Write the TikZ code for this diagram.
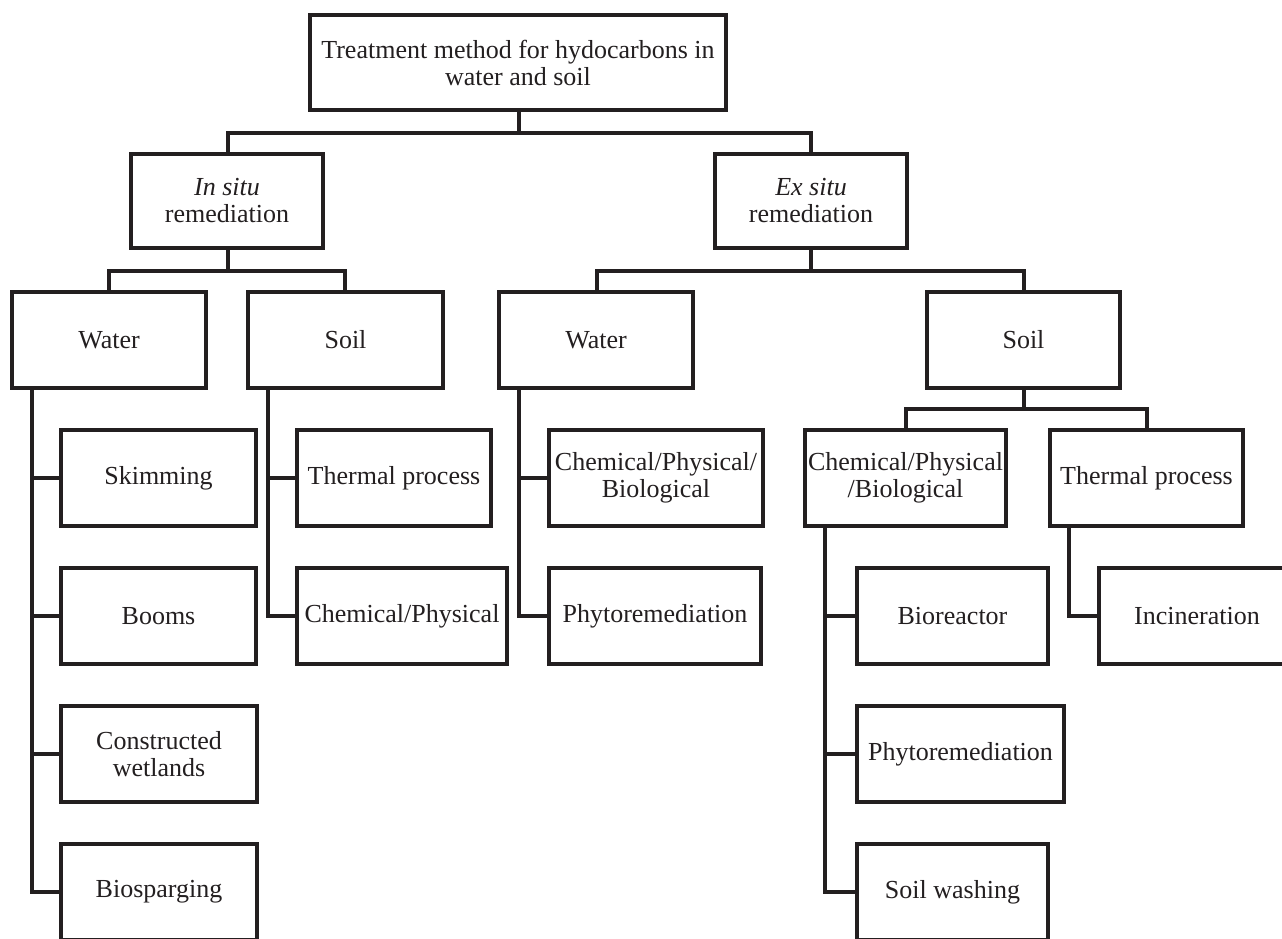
\documentclass[tikz,border=0pt]{standalone}
\usepackage{fontspec}
\setmainfont{Liberation Serif}
\definecolor{ink}{RGB}{35,31,32}
\begin{document}
\begin{tikzpicture}[x=0.75pt,y=-0.75pt,
  box/.style={draw=ink,line width=3.4pt,inner sep=0pt,minimum height=72pt,
    align=center,text=ink,font=\fontsize{19.5}{20.25}\selectfont},
  bw/.style={minimum width=#1*0.75pt},
  conn/.style={draw=ink,line width=3.2pt}]
\useasboundingbox (0,0) rectangle (1282,939);
\clip (0,0) rectangle (1282,939);
\fill[white] (0,0) rectangle (1282,939);
% level 0
\node[box,bw=416,minimum height=71.25pt] (top) at (518,62.5) {Treatment method for hydocarbons in\\water and soil};
% level 1
\node[box,bw=192,minimum height=70.5pt] (insitu) at (227,201) {\textit{In situ}\\remediation};
\node[box,bw=192,minimum height=70.5pt] (exsitu) at (811,201) {\textit{Ex situ}\\remediation};
% level 2
\node[box,bw=194] (inwater) at (109,340) {Water};
\node[box,bw=195] (insoil) at (345.5,340) {Soil};
\node[box,bw=194] (exwater) at (596,340) {Water};
\node[box,bw=193] (exsoil) at (1023.5,340) {Soil};
% in situ water children
\node[box,bw=195] (skim) at (158.5,478) {Skimming};
\node[box,bw=195] (booms) at (158.5,616) {Booms};
\node[box,bw=196] (wet) at (159,754) {Constructed\\wetlands};
\node[box,bw=196] (bios) at (159,892) {Biosparging};
% in situ soil children
\node[box,bw=194] (inthermal) at (394,478) {Thermal process};
\node[box,bw=210] (inchem) at (402,616) {Chemical/Physical};
% ex situ water children
\node[box,bw=214] (excpb) at (656,478) {Chemical/Physical/\\Biological};
\node[box,bw=212] (exphyto) at (655,616) {Phytoremediation};
% ex situ soil children
\node[box,bw=201] (soilcpb) at (905.5,478) {Chemical/Physical\\/Biological};
\node[box,bw=193] (soilthermal) at (1146.5,478) {Thermal process};
\node[box,bw=191] (bioreact) at (952.5,616) {Bioreactor};
\node[box,bw=207] (sphyto) at (960.5,754) {Phytoremediation};
\node[box,bw=191] (swash) at (952.5,892) {Soil washing};
\node[box,bw=196] (incin) at (1197,616) {Incineration};
% junction coordinates
\coordinate (j0) at (519,133);
\coordinate (j1) at (228,271);
\coordinate (j2) at (811,271);
\coordinate (j3) at (1024,409);
\coordinate (xa) at (32,0);
\coordinate (xb) at (268,0);
\coordinate (xc) at (519,0);
\coordinate (xd) at (825,0);
\coordinate (xe) at (1069,0);
% connectors
\draw[conn] (top.south -| j0) -- (j0);
\draw[conn] (insitu.north -| j1) |- (j0) -| (exsitu.north -| j2);
\draw[conn] (insitu.south -| j1) -- (j1);
\draw[conn] (inwater.north -| 109,0) |- (j1) -| (insoil.north -| 345,0);
\draw[conn] (exsitu.south -| j2) -- (j2);
\draw[conn] (exwater.north -| 597,0) |- (j2) -| (exsoil.north -| j3);
\draw[conn] (exsoil.south -| j3) -- (j3);
\draw[conn] (soilcpb.north -| 906,0) |- (j3) -| (soilthermal.north -| 1147,0);
% side branches
\draw[conn] (inwater.south -| xa) |- (bios.west);
\draw[conn] (skim.west -| xa) -- (skim.west);
\draw[conn] (booms.west -| xa) -- (booms.west);
\draw[conn] (wet.west -| xa) -- (wet.west);
\draw[conn] (insoil.south -| xb) |- (inchem.west);
\draw[conn] (inthermal.west -| xb) -- (inthermal.west);
\draw[conn] (exwater.south -| xc) |- (exphyto.west);
\draw[conn] (excpb.west -| xc) -- (excpb.west);
\draw[conn] (soilcpb.south -| xd) |- (swash.west);
\draw[conn] (bioreact.west -| xd) -- (bioreact.west);
\draw[conn] (sphyto.west -| xd) -- (sphyto.west);
\draw[conn] (soilthermal.south -| xe) |- (incin.west);
\end{tikzpicture}
\end{document}
